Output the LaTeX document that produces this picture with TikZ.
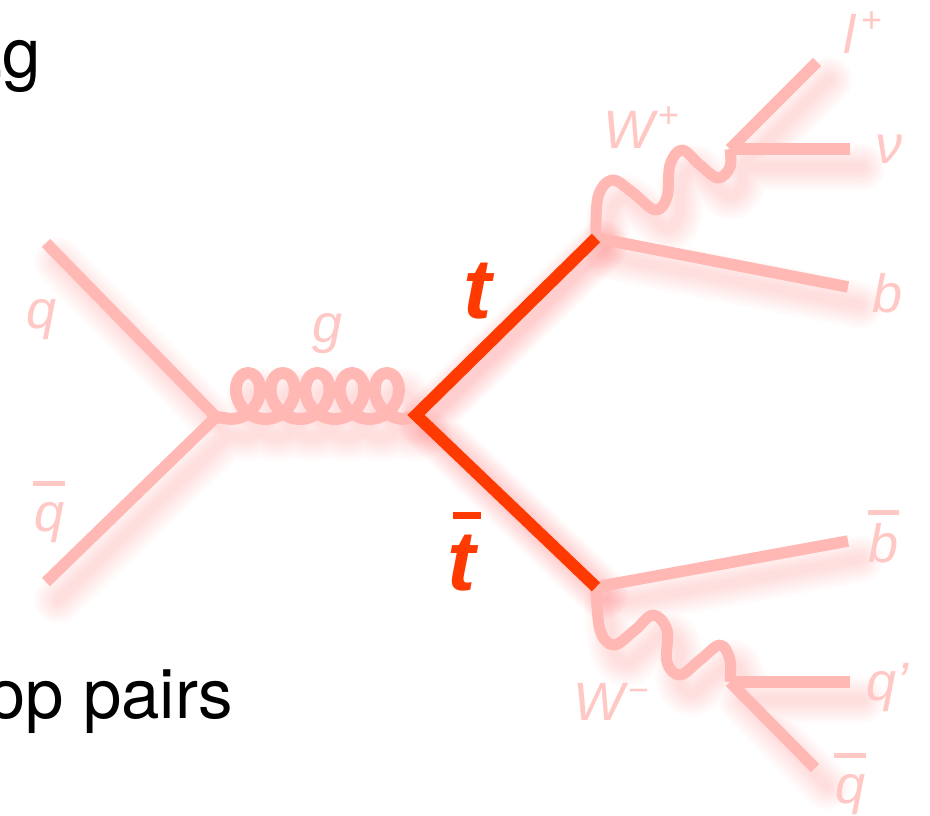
\documentclass[tikz,border=0pt]{standalone}
\usepackage{fontspec}
\setmainfont{Liberation Sans}
\newfontfamily\blackfont{TeX Gyre Heros}
\definecolor{pale}{HTML}{FFB8B3}
\definecolor{paletxt}{HTML}{FFC8C4}
\definecolor{topred}{HTML}{FF3A00}
\newcommand{\barlbl}[3]{\leavevmode\rlap{\kern#3\raisebox{#2}{\rule{.58em}{.09em}}}#1}
\newcommand{\suplbl}[2]{\raisebox{#2}{\fontsize{36}{36}\selectfont\upshape #1}}
\tikzset{
  fermion/.style={draw=pale,line width=11.5pt,line cap=butt},
  boson/.style={draw=pale,line width=11pt,line join=round},
  gluon/.style={draw=pale,line width=12pt,line join=round},
  topline/.style={draw=topred,line width=12pt,line join=miter},
  lbl/.style={text=paletxt,font=\fontsize{54}{54}\selectfont\itshape,inner sep=0pt,anchor=base},
  lblw/.style={lbl,anchor=base west},
  toplbl/.style={text=topred,font=\fontsize{85}{85}\selectfont\bfseries\itshape,inner sep=0pt,anchor=base},
  bigtxt/.style={text=black,font=\fontsize{69}{69}\selectfont\blackfont,inner sep=0pt,anchor=base west},
  gluonpath/.style={insert path={-- plot[smooth,domain=-180:1620,samples=121,variable=\a] ({248+0.0964*\a-20*sin(\a)},{396-23*cos(\a)}) -- (vb)}},
  wpluspath/.style={insert path={plot[smooth,tension=.6] coordinates {(tr) (598,197) (612,180) (632,192) (655,210) (667,197) (670,165) (682,150) (700,165) (718,178) (730,167) (wp)}}},
  wminuspath/.style={insert path={plot[smooth,tension=.6] coordinates {(br) (600,630) (614,645) (635,630) (653,615) (667,630) (667,662) (680,675) (700,660) (720,645) (730,660) (wm)}}},
  glow/.style={line cap=round,line join=round,draw=red}
}
\newcommand{\softlines}[2]{%
  \draw[glow,line width=#1,opacity=#2] (qin) -- (va) (qbin) -- (va)
    (va) [gluonpath]
    (tr) -- (bout) (br) -- (bbout)
    [wpluspath] [wminuspath]
    (lout) -- (wp) -- (nuout) (qpout) -- (wm) -- (qbout);
}
\newcommand{\softtop}[2]{\draw[glow,line width=#1,opacity=#2] (tr) -- (vb) -- (br);}
\begin{document}
\begin{tikzpicture}[x=1pt,y=-1pt]
\useasboundingbox (0,0) rectangle (930,815);
\fill[white] (0,0) rectangle (930,815);
\coordinate (qin) at (46,243);
\coordinate (qbin) at (46,582);
\coordinate (va) at (216,417);
\coordinate (vb) at (416,415);
\coordinate (tr) at (596,238);
\coordinate (br) at (596,587);
\coordinate (bout) at (848,287);
\coordinate (bbout) at (848,541);
\coordinate (wp) at (730,149);
\coordinate (wm) at (730,682);
\coordinate (lout) at (817,62);
\coordinate (nuout) at (850,149);
\coordinate (qpout) at (850,682);
\coordinate (qbout) at (815,768);
% soft shadow
\begin{scope}[transform canvas={shift={(12,18)}}]
  \foreach \w in {48,44,40,36,32,28,24,20,16,12,8}{\softlines{\w pt}{0.012}}
\end{scope}
\begin{scope}[transform canvas={shift={(7,7)}}]
  \foreach \w in {50,45,40,35,30,25,20,15}{\softtop{\w pt}{0.025}}
\end{scope}
% particle lines
\draw[fermion] (qin) -- (va);
\draw[fermion] (qbin) -- (va);
\draw[gluon] (va) [gluonpath];
\draw[boson] [wpluspath];
\draw[boson] [wminuspath];
\draw[fermion] (tr) -- (bout);
\draw[fermion] (br) -- (bbout);
\draw[fermion] (wp) -- (lout);
\draw[fermion] (wp) -- (nuout);
\draw[fermion] (wm) -- (qpout);
\draw[fermion] (wm) -- (qbout);
\draw[topline] (tr) -- (vb) -- (br);
% labels
\node[lbl] (lq) at (42,328) {q};
\node[lbl] (lqb) at (50,531) {\barlbl{q}{.83em}{-.03em}};
\node[lbl] (lg) at (328,342) {g};
\node[lblw] (lw) at (603,148) {W\kern4pt\suplbl{+}{21pt}};
\node[lblw] (ll) at (843,53) {l\kern6pt\suplbl{+}{21pt}};
\node[lbl] (lnu) at (889,163) {ν};
\node[lbl] (lb) at (888,312) {b};
\node[lbl] (lbb) at (884,562) {\barlbl{b}{.87em}{-.02em}};
\node[lblw] (lqp) at (866,700) {q'};
\node[lbl] (lqb2) at (851,803) {\barlbl{q}{.83em}{-.03em}};
\node[lblw] (lwm) at (573,720) {W\kern4pt\suplbl{−}{18pt}};
\node[toplbl] (lt) at (478,318) {t};
\node[toplbl] (ltb) at (462,590) {\rlap{\kern.06em\raisebox{.83em}{\rule{.33em}{.085em}}}t};
\node[bigtxt] (t1) at (-13,77) {.\kern-4pt g};
\node[bigtxt] (t2) at (-13,718) {op pairs};
\end{tikzpicture}
\end{document}
